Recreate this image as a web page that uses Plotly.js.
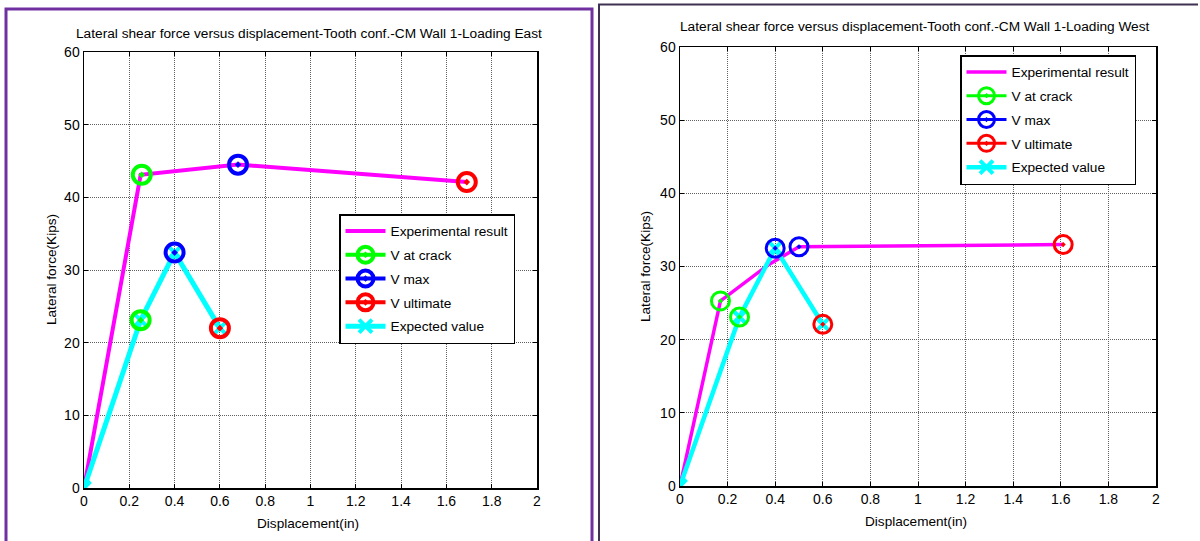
<!DOCTYPE html>
<html>
<head>
<meta charset="utf-8">
<script src="https://cdn.plot.ly/plotly-3.0.1.min.js"></script>
<style>
html,body{margin:0;padding:0;background:#fff;}
#chart{width:1200px;height:541px;}
</style>
</head>
<body>
<div id="chart"></div>
<script>
// ---------- DATA ----------
// Left chart: Loading East
const eastExpX = [0, 0.25, 0.68, 1.69];
const eastExpY = [0, 43.1, 44.5, 42.1];
const eastCrackX = [0.255, 0.25];
const eastCrackY = [43.1, 23.1];
const eastMaxX = [0.68, 0.4];
const eastMaxY = [44.5, 32.4];
const eastUltX = [1.69, 0.6];
const eastUltY = [42.1, 22.0];
const eastExpectedX = [0, 0.25, 0.4, 0.6];
const eastExpectedY = [0, 23.1, 32.4, 22.0];

// Right chart: Loading West
const westExpX = [0, 0.17, 0.37, 0.5, 1.61];
const westExpY = [0, 25.3, 30.2, 32.7, 33.0];
const westCrackX = [0.17, 0.25];
const westCrackY = [25.3, 23.1];
const westMaxX = [0.5, 0.4];
const westMaxY = [32.7, 32.5];
const westUltX = [1.61, 0.6];
const westUltY = [33.0, 22.1];
const westExpectedX = [0, 0.25, 0.4, 0.6];
const westExpectedY = [0, 23.1, 32.5, 22.1];

const xTicks = [0, 0.2, 0.4, 0.6, 0.8, 1, 1.2, 1.4, 1.6, 1.8, 2];
const yTicks = [0, 10, 20, 30, 40, 50, 60];

const seriesNames = ["Experimental result", "V at crack", "V max", "V ultimate", "Expected value"];
const titleEast = "Lateral shear force versus displacement-Tooth conf.-CM Wall 1-Loading East";
const titleWest = "Lateral shear force versus displacement-Tooth conf.-CM Wall 1-Loading West";
const xTitle = "Displacement(in)";
const yTitle = "Lateral force(Kips)";

// ---------- HELPERS ----------
const W = 1200, H = 541;
const px = v => v / W;
const py = v => 1 - v / H;
const FONT = "Liberation Sans, Arial, sans-serif";

// put gaps between isolated marker points so no connecting line is drawn
function isolate(arr) {
  const out = [];
  arr.forEach((v, i) => { if (i) out.push(null); out.push(v); });
  return out;
}

function makeTraces(d, xa, ya, leg, lw, mw, ms) {
  const p = leg + "_";
  return [
    {x: d.expX, y: d.expY, name: seriesNames[0], mode: "lines", xaxis: xa, yaxis: ya, legend: leg,
     legendgroup: p + "1", line: {color: "#FF00FF", width: lw}, legendrank: 1},
    {x: d.expectedX, y: d.expectedY, name: seriesNames[4], mode: "lines+markers", xaxis: xa, yaxis: ya, legend: leg,
     legendgroup: p + "5", line: {color: "#00FFFF", width: lw + 1},
     marker: {symbol: "x-thin-open", size: 13, color: "#00FFFF", line: {color: "#00FFFF", width: 4}}, legendrank: 5},
    {x: isolate(d.crackX), y: isolate(d.crackY), name: seriesNames[1], mode: "lines+markers", xaxis: xa, yaxis: ya, legend: leg,
     legendgroup: p + "2", connectgaps: false, line: {color: "#00FF00", width: mw},
     marker: {symbol: "circle-open-dot", size: ms, color: "#00FF00", line: {color: "#00FF00", width: mw}}, legendrank: 2},
    {x: isolate(d.maxX), y: isolate(d.maxY), name: seriesNames[2], mode: "lines+markers", xaxis: xa, yaxis: ya, legend: leg,
     legendgroup: p + "3", connectgaps: false, line: {color: "#0000FF", width: mw},
     marker: {symbol: "circle-open-dot", size: ms, color: "#0000FF", line: {color: "#0000FF", width: mw}}, legendrank: 3},
    {x: isolate(d.ultX), y: isolate(d.ultY), name: seriesNames[3], mode: "lines+markers", xaxis: xa, yaxis: ya, legend: leg,
     legendgroup: p + "4", connectgaps: false, line: {color: "#FF0000", width: mw},
     marker: {symbol: "circle-open-dot", size: ms, color: "#FF0000", line: {color: "#FF0000", width: mw}}, legendrank: 4}
  ];
}

const east = {expX: eastExpX, expY: eastExpY, crackX: eastCrackX, crackY: eastCrackY, maxX: eastMaxX, maxY: eastMaxY,
  ultX: eastUltX, ultY: eastUltY, expectedX: eastExpectedX, expectedY: eastExpectedY};
const west = {expX: westExpX, expY: westExpY, crackX: westCrackX, crackY: westCrackY, maxX: westMaxX, maxY: westMaxY,
  ultX: westUltX, ultY: westUltY, expectedX: westExpectedX, expectedY: westExpectedY};

const data = [].concat(
  makeTraces(east, "x", "y", "legend", 4, 4, 18),
  makeTraces(west, "x2", "y2", "legend2", 3.5, 3, 18)
);

function axisX(domain, anchor) {
  return {domain: domain, anchor: anchor, range: [0, 2], tickvals: xTicks, ticks: "inside", ticklen: 4,
    tickcolor: "#000", mirror: "allticks", showline: true, linecolor: "#000", linewidth: 1.5,
    showgrid: true, gridcolor: "#606060", griddash: "1px,1px", gridwidth: 1, zeroline: false,
    tickfont: {family: FONT, size: 14, color: "#000"}, fixedrange: true};
}
function axisY(domain, anchor) {
  return {domain: domain, anchor: anchor, range: [0, 60], tickvals: yTicks, ticks: "inside", ticklen: 4,
    tickcolor: "#000", mirror: "allticks", showline: true, linecolor: "#000", linewidth: 1.5,
    showgrid: true, gridcolor: "#606060", griddash: "1px,1px", gridwidth: 1, zeroline: false,
    tickfont: {family: FONT, size: 14, color: "#000"}, fixedrange: true};
}

function legendBox(x, y) {
  return {x: x, y: y, xanchor: "left", yanchor: "top", bgcolor: "#fff", bordercolor: "#000", borderwidth: 1.5,
    font: {family: FONT, size: 13.7, color: "#000"}, traceorder: "grouped", tracegroupgap: 3, itemwidth: 40};
}

const ann = (text, x, y, size, extra) => Object.assign({text: text, x: px(x), y: py(y), xref: "paper", yref: "paper",
  showarrow: false, xanchor: "center", yanchor: "middle", font: {family: FONT, size: size, color: "#000"}}, extra || {});

const layout = {
  width: W, height: H,
  margin: {l: 0, r: 0, t: 0, b: 0},
  paper_bgcolor: "#fff", plot_bgcolor: "#fff",
  showlegend: true,
  xaxis: axisX([px(84), px(537)], "y"),
  yaxis: axisY([py(488), py(52)], "x"),
  xaxis2: axisX([px(680), px(1156)], "y2"),
  yaxis2: axisY([py(486), py(47)], "x2"),
  legend: legendBox(px(339), py(214)),
  legend2: legendBox(px(960), py(55)),
  annotations: [
    ann(titleEast, 309, 33, 13.7),
    ann(titleWest, 915, 27, 13.7),
    ann(xTitle, 308, 523, 13.6),
    ann(xTitle, 916, 521, 13.6),
    ann(yTitle, 51, 270, 13.6, {textangle: -90}),
    ann(yTitle, 645, 267, 13.6, {textangle: -90})
  ],
  shapes: [
    {type: "path", xref: "paper", yref: "paper",
     path: `M ${px(6)} ${py(560)} L ${px(6)} ${py(9)} L ${px(592)} ${py(9)} L ${px(592)} ${py(560)}`,
     line: {color: "#7030A0", width: 3}},
    {type: "path", xref: "paper", yref: "paper",
     path: `M ${px(599)} ${py(560)} L ${px(599)} ${py(4.5)} L ${px(1198)} ${py(4.5)}`,
     line: {color: "#3F3151", width: 2}}
  ]
};

Plotly.newPlot("chart", data, layout, {displayModeBar: false, staticPlot: true});
</script>
</body>
</html>
